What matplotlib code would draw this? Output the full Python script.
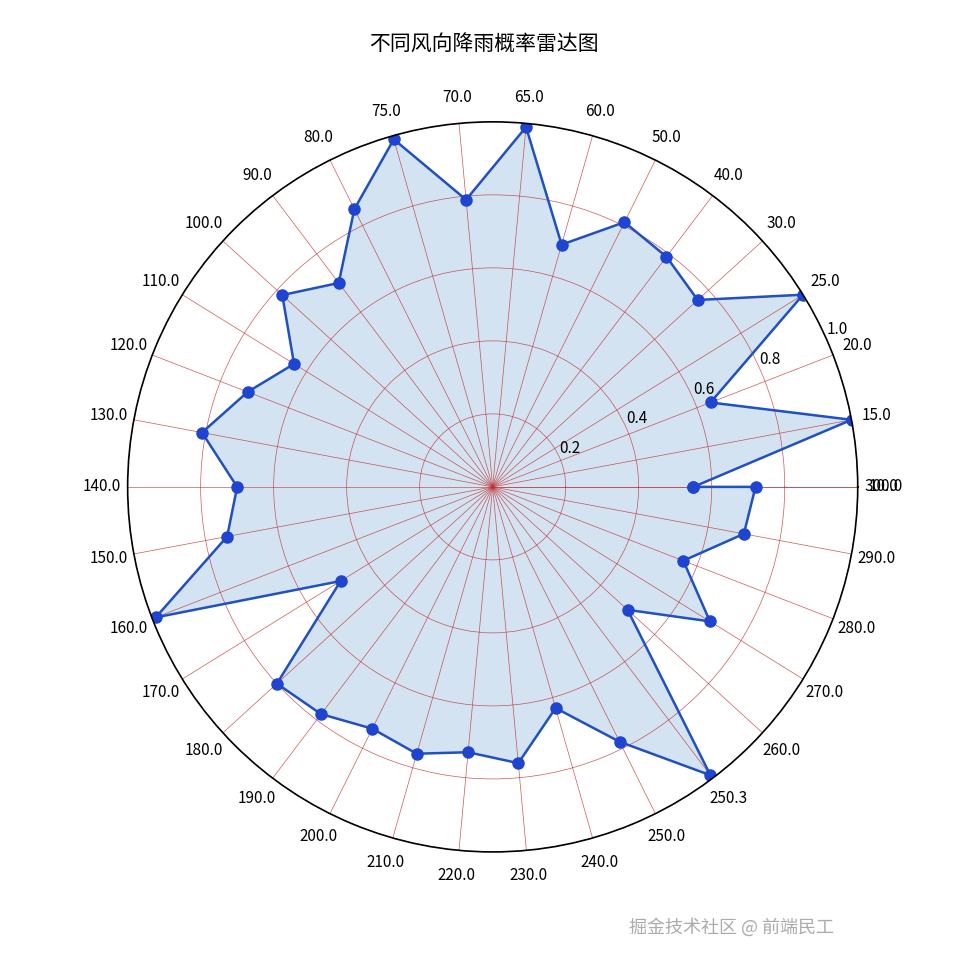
import numpy as np
import matplotlib.pyplot as plt

plt.rcParams['font.family'] = ['Noto Sans CJK SC', 'DejaVu Sans']

# 风向标签与降雨概率
directions = ['10.0', '15.0', '20.0', '25.0', '30.0', '40.0', '50.0', '60.0', '65.0',
              '70.0', '75.0', '80.0', '90.0', '100.0', '110.0', '120.0', '130.0',
              '140.0', '150.0', '160.0', '170.0', '180.0', '190.0', '200.0', '210.0',
              '220.0', '230.0', '240.0', '250.0', '250.3', '260.0', '270.0', '280.0',
              '290.0', '300.0']
probs = [0.55, 1.0, 0.64, 1.0, 0.76, 0.79, 0.81, 0.69, 0.99,
         0.79, 0.99, 0.85, 0.70, 0.78, 0.64, 0.72, 0.81,
         0.70, 0.74, 0.99, 0.49, 0.80, 0.78, 0.74, 0.76,
         0.73, 0.76, 0.63, 0.78, 0.99, 0.50, 0.70, 0.56,
         0.70, 0.72]

angles = np.linspace(0, 2 * np.pi, len(probs))
ang_c = np.append(angles, angles[0])
val_c = np.append(probs, probs[0])

fig = plt.figure(figsize=(9.67, 9.67), dpi=100)
ax = fig.add_axes([0.132, 0.119, 0.755, 0.755], polar=True)

ax.plot(ang_c, val_c, color='#2150c0', linewidth=1.8, marker='o',
        markersize=8, markerfacecolor='#1f45d0', markeredgecolor='#1f45d0')
ax.fill(ang_c, val_c, color='#a9c8e6', alpha=0.5)

ax.set_thetagrids(np.degrees(angles), directions, fontsize=11)
ax.set_ylim(0, 1.0)
ax.set_rticks([0.2, 0.4, 0.6, 0.8, 1.0])
ax.set_rlabel_position(24)
ax.tick_params(axis='y', labelsize=11)
ax.tick_params(axis='x', pad=8)
ax.grid(True, color='#c03030', linewidth=0.5, alpha=0.8)
ax.spines['polar'].set_linewidth(1.2)

fig.suptitle('不同风向降雨概率雷达图', fontsize=15, y=0.965)
fig.text(0.65, 0.035, '掘金技术社区 @ 前端民工', fontsize=13, color='#888888', alpha=0.7)

fig.savefig('out.png', dpi=100)
